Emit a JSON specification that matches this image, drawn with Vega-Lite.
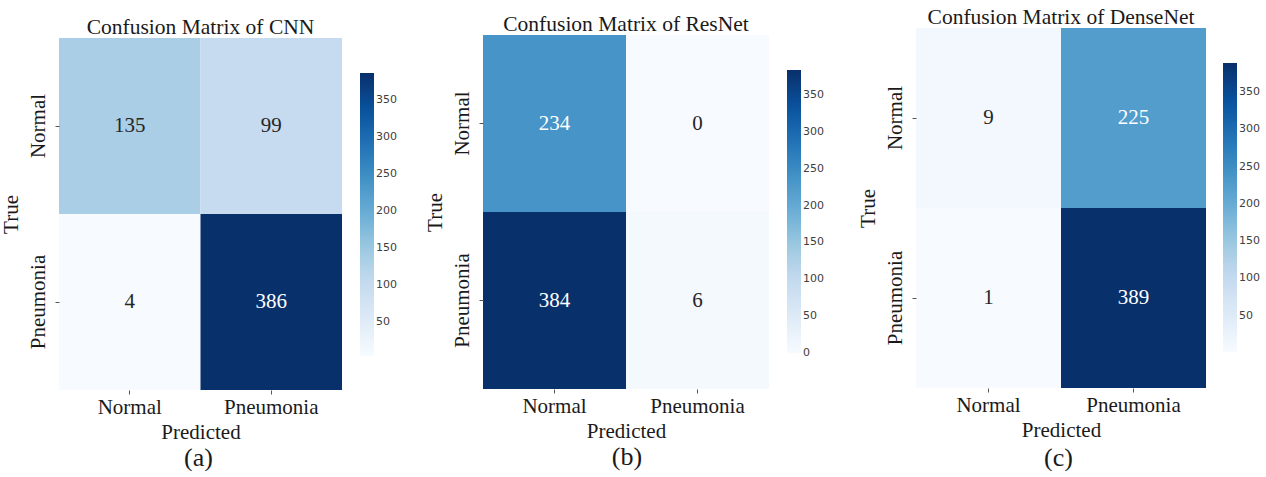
{
  "$schema": "https://vega.github.io/schema/vega-lite/v6.json",
  "background": "white",
  "padding": {"left": 0, "top": 4, "right": 0, "bottom": 0},
  "config": {
    "font": "Liberation Serif",
    "view": {"stroke": null},
    "axis": {"labelFont": "Liberation Serif", "labelFontSize": 21, "labelColor": "#1a1a1a", "titleFont": "Liberation Serif", "titleFontSize": 21, "titleFontWeight": "normal", "titleColor": "#1a1a1a", "domain": false, "ticks": true, "tickColor": "#555", "tickSize": 4, "grid": false},
    "axisX": {"labelAngle": 0, "labelPadding": 2, "titlePadding": 4},
    "axisY": {"labelAngle": 270, "labelAlign": "center", "labelBaseline": "bottom", "labelPadding": 7, "titlePadding": 6},
    "legend": {"labelFont": "DejaVu Sans", "labelFontSize": 11, "labelColor": "#404040", "labelOffset": 9, "gradientThickness": 14, "gradientStrokeWidth": 0},
    "title": {"font": "Liberation Serif", "fontSize": 21.5, "fontWeight": "normal", "color": "#1a1a1a"}
  },
  "hconcat": [
    {
      "title": {"text": "(a)", "orient": "bottom", "fontSize": 26, "frame": "bounds", "anchor": "middle", "offset": 3},
      "resolve": {"scale": {"color": "independent"}, "legend": {"color": "independent"}},
      "spacing": 0,
      "bounds": "flush",
      "vconcat": [
        {"width": 283, "height": 34, "data": {"values": []}, "mark": "rect"},
        {
          "title": {"text": "Confusion Matrix of CNN", "frame": "group", "anchor": "middle", "offset": 0},
          "width": 283,
          "height": 352,
          "data": {"values": [
            {"actual": "Normal", "predicted": "Normal", "count": 135},
            {"actual": "Normal", "predicted": "Pneumonia", "count": 99},
            {"actual": "Pneumonia", "predicted": "Normal", "count": 4},
            {"actual": "Pneumonia", "predicted": "Pneumonia", "count": 386}
          ]},
          "encoding": {
            "x": {"field": "predicted", "type": "nominal", "sort": ["Normal", "Pneumonia"], "scale": {"paddingInner": 0, "paddingOuter": 0}, "axis": {"title": "Predicted"}},
            "y": {"field": "actual", "type": "nominal", "sort": ["Normal", "Pneumonia"], "scale": {"paddingInner": 0, "paddingOuter": 0}, "axis": {"title": "True"}}
          },
          "layer": [
            {"mark": "rect", "encoding": {"color": {"field": "count", "type": "quantitative",
              "scale": {"domain": [4, 51.75, 99.5, 147.25, 195, 242.75, 290.5, 338.25, 386], "range": ["#f7fbff", "#deebf7", "#c6dbef", "#9ecae1", "#6baed6", "#4292c6", "#2171b5", "#08519c", "#08306b"]},
              "legend": {"title": null, "orient": "none", "direction": "vertical", "legendX": 301, "legendY": 35, "gradientLength": 283, "values": [50, 100, 150, 200, 250, 300, 350], "encode": {"labels": {"update": {"baseline": {"value": "middle"}}}}}}}},
            {"mark": {"type": "text", "font": "Liberation Serif", "fontSize": 21}, "encoding": {"text": {"field": "count", "type": "quantitative"}, "color": {"condition": {"test": "datum.count > 180", "value": "white"}, "value": "#262626"}}}
          ]
        }
      ]
    },
    {
      "title": {"text": "(b)", "orient": "bottom", "fontSize": 26, "frame": "bounds", "anchor": "middle", "offset": 3},
      "resolve": {"scale": {"color": "independent"}, "legend": {"color": "independent"}},
      "spacing": 0,
      "bounds": "flush",
      "vconcat": [
        {"width": 286, "height": 31, "data": {"values": []}, "mark": "rect"},
        {
          "title": {"text": "Confusion Matrix of ResNet", "frame": "group", "anchor": "middle", "offset": 0},
          "width": 286,
          "height": 354,
          "data": {"values": [
            {"actual": "Normal", "predicted": "Normal", "count": 234},
            {"actual": "Normal", "predicted": "Pneumonia", "count": 0},
            {"actual": "Pneumonia", "predicted": "Normal", "count": 384},
            {"actual": "Pneumonia", "predicted": "Pneumonia", "count": 6}
          ]},
          "encoding": {
            "x": {"field": "predicted", "type": "nominal", "sort": ["Normal", "Pneumonia"], "scale": {"paddingInner": 0, "paddingOuter": 0}, "axis": {"title": "Predicted"}},
            "y": {"field": "actual", "type": "nominal", "sort": ["Normal", "Pneumonia"], "scale": {"paddingInner": 0, "paddingOuter": 0}, "axis": {"title": "True"}}
          },
          "layer": [
            {"mark": "rect", "encoding": {"color": {"field": "count", "type": "quantitative",
              "scale": {"domain": [0, 48, 96, 144, 192, 240, 288, 336, 384], "range": ["#f7fbff", "#deebf7", "#c6dbef", "#9ecae1", "#6baed6", "#4292c6", "#2171b5", "#08519c", "#08306b"]},
              "legend": {"title": null, "orient": "none", "direction": "vertical", "legendX": 298, "legendY": 29, "padding": 6, "gradientLength": 283, "values": [0, 50, 100, 150, 200, 250, 300, 350], "encode": {"labels": {"update": {"baseline": {"value": "middle"}}}}}}}},
            {"mark": {"type": "text", "font": "Liberation Serif", "fontSize": 21}, "encoding": {"text": {"field": "count", "type": "quantitative"}, "color": {"condition": {"test": "datum.count > 180", "value": "white"}, "value": "#262626"}}}
          ]
        }
      ]
    },
    {
      "title": {"text": "(c)", "orient": "bottom", "fontSize": 26, "frame": "bounds", "anchor": "middle", "offset": 5},
      "resolve": {"scale": {"color": "independent"}, "legend": {"color": "independent"}},
      "spacing": 0,
      "bounds": "flush",
      "vconcat": [
        {"width": 290, "height": 24, "data": {"values": []}, "mark": "rect"},
        {
          "title": {"text": "Confusion Matrix of DenseNet", "frame": "group", "anchor": "middle", "offset": 0},
          "width": 290,
          "height": 360,
          "data": {"values": [
            {"actual": "Normal", "predicted": "Normal", "count": 9},
            {"actual": "Normal", "predicted": "Pneumonia", "count": 225},
            {"actual": "Pneumonia", "predicted": "Normal", "count": 1},
            {"actual": "Pneumonia", "predicted": "Pneumonia", "count": 389}
          ]},
          "encoding": {
            "x": {"field": "predicted", "type": "nominal", "sort": ["Normal", "Pneumonia"], "scale": {"paddingInner": 0, "paddingOuter": 0}, "axis": {"title": "Predicted"}},
            "y": {"field": "actual", "type": "nominal", "sort": ["Normal", "Pneumonia"], "scale": {"paddingInner": 0, "paddingOuter": 0}, "axis": {"title": "True"}}
          },
          "layer": [
            {"mark": "rect", "encoding": {"color": {"field": "count", "type": "quantitative",
              "scale": {"domain": [1, 49.5, 98, 146.5, 195, 243.5, 292, 340.5, 389], "range": ["#f7fbff", "#deebf7", "#c6dbef", "#9ecae1", "#6baed6", "#4292c6", "#2171b5", "#08519c", "#08306b"]},
              "legend": {"title": null, "orient": "none", "direction": "vertical", "legendX": 307, "legendY": 35, "gradientLength": 289, "values": [50, 100, 150, 200, 250, 300, 350], "encode": {"labels": {"update": {"baseline": {"value": "middle"}}}}}}}},
            {"mark": {"type": "text", "font": "Liberation Serif", "fontSize": 21}, "encoding": {"text": {"field": "count", "type": "quantitative"}, "color": {"condition": {"test": "datum.count > 180", "value": "white"}, "value": "#262626"}}}
          ]
        }
      ]
    }
  ],
  "spacing": 27,
  "resolve": {"scale": {"color": "independent"}, "legend": {"color": "independent"}}
}
